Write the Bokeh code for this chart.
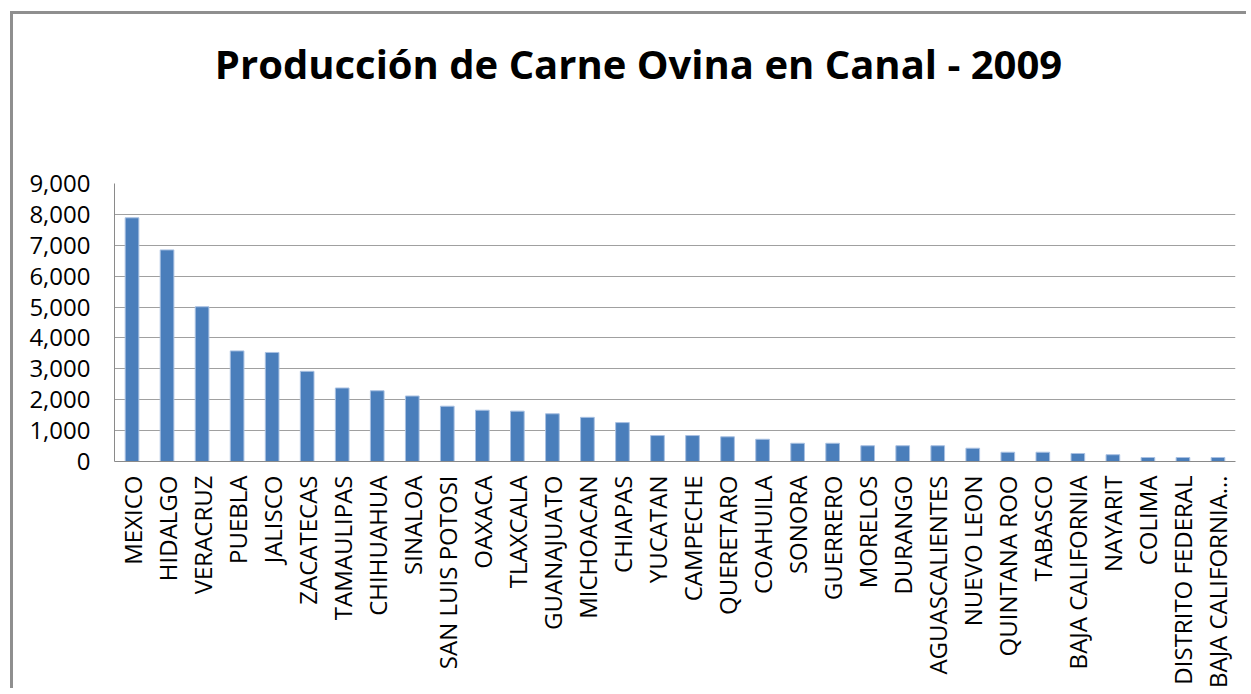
import math
from bokeh.plotting import figure
from bokeh.models import NumeralTickFormatter, FixedTicker, Range1d, Label
from bokeh.embed import file_html
from bokeh.resources import INLINE

states = ["MEXICO", "HIDALGO", "VERACRUZ", "PUEBLA", "JALISCO", "ZACATECAS",
          "TAMAULIPAS", "CHIHUAHUA", "SINALOA", "SAN LUIS POTOSI", "OAXACA",
          "TLAXCALA", "GUANAJUATO", "MICHOACAN", "CHIAPAS", "YUCATAN",
          "CAMPECHE", "QUERETARO", "COAHUILA", "SONORA", "GUERRERO", "MORELOS",
          "DURANGO", "AGUASCALIENTES", "NUEVO LEON", "QUINTANA ROO", "TABASCO",
          "BAJA CALIFORNIA", "NAYARIT", "COLIMA", "DISTRITO FEDERAL",
          "BAJA CALIFORNIA…"]
produccion = [7890, 6850, 5010, 3580, 3530, 2920, 2380, 2290, 2120, 1790, 1660,
              1630, 1545, 1430, 1260, 840, 840, 800, 720, 590, 590, 510, 510,
              510, 430, 300, 300, 260, 220, 130, 130, 130]
y_ticks = [0, 1000, 2000, 3000, 4000, 5000, 6000, 7000, 8000, 9000]
title_text = "Producción de Carne Ovina en Canal - 2009"

p = figure(x_range=states, y_range=Range1d(0, 9000),
           frame_width=1121, frame_height=278,
           min_border_left=101, min_border_right=14,
           min_border_top=169, min_border_bottom=228,
           output_backend="svg", toolbar_location=None)
p.margin = (14, 0, 0, 13)

p.vbar(x=states, top=produccion, width=0.39, fill_color="#4a7ebb",
       line_color="#a9c1e2", line_width=1)

title = Label(x=524, y=120, x_units="screen", y_units="screen",
              text=title_text, text_align="center", text_baseline="alphabetic",
              text_font="Open Sans", text_font_style="bold",
              text_font_size="40px", text_color="#000000")
p.add_layout(title, "above")

p.outline_line_color = None
p.xgrid.grid_line_color = None
p.ygrid.grid_line_color = "#a0a0a0"
p.ygrid.grid_line_width = 1

p.yaxis.ticker = FixedTicker(ticks=y_ticks)
p.yaxis.formatter = NumeralTickFormatter(format="0,0")
p.yaxis.minor_tick_line_color = None
p.yaxis.major_tick_out = 0
p.yaxis.major_tick_in = 0
p.yaxis.axis_line_color = "#8a8a8a"
p.yaxis.major_label_standoff = 24
p.yaxis.major_label_text_font = "Open Sans"
p.yaxis.major_label_text_font_size = "24px"
p.yaxis.major_label_text_color = "#000000"

p.xaxis.major_label_orientation = math.pi / 2
p.xaxis.major_tick_out = 0
p.xaxis.major_tick_in = 0
p.xaxis.axis_line_color = "#8a8a8a"
p.xaxis.major_label_standoff = 14
p.xaxis.major_label_text_font = "Open Sans"
p.xaxis.major_label_text_font_size = "24px"
p.xaxis.major_label_text_color = "#000000"

p.styles = {"box-shadow": "-3px -3px 0 0 #8f8f8f"}

open("out.html", "w").write(file_html(p, INLINE))
